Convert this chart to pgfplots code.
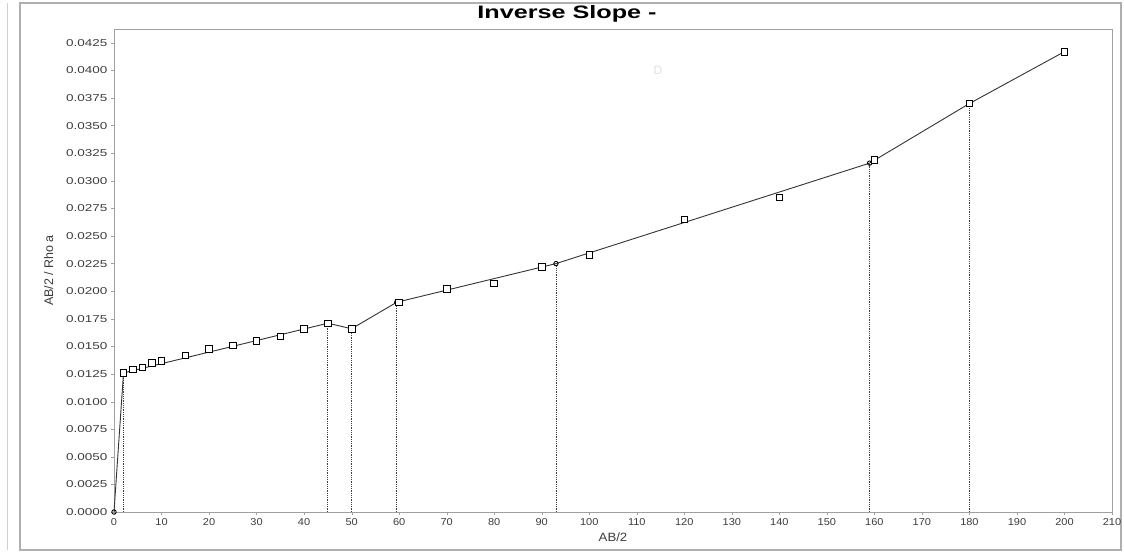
\documentclass[border=0pt]{standalone}
\usepackage{fontspec}
\setmainfont{Liberation Sans}
\newfontfamily\tickfontY[FakeStretch=1.35]{Liberation Sans}
\newfontfamily\tickfontX[FakeStretch=1.1]{Liberation Sans}
\newfontfamily\titlefont[FakeStretch=1.4]{Liberation Sans}
\usepackage{pgfplots}
\pgfplotsset{compat=1.18}
\definecolor{axisgray}{RGB}{160,160,160}
\definecolor{labelgray}{RGB}{60,60,60}
\definecolor{framegray}{RGB}{175,175,175}

\begin{document}
\begin{tikzpicture}[x=1pt,y=1pt]
\useasboundingbox (0,0) rectangle (1124,557);
% window frame of the screenshot
\draw[framegray, line width=1.2pt] (20,7) rectangle (1121,554);
\draw[framegray!60, line width=0.8pt] (7,7) -- (7,554);

\begin{axis}[
    at={(114pt,45pt)}, anchor=south west,
    scale only axis,
    width=998pt, height=483pt,
    xmin=0, xmax=210,
    ymin=0, ymax=0.04375,
    xtick={0,10,...,210},
    ytick={0,0.0025,0.005,0.0075,0.01,0.0125,0.015,0.0175,0.02,0.0225,0.025,0.0275,0.03,0.0325,0.035,0.0375,0.04,0.0425},
    scaled y ticks=false,
    yticklabel style={
        /pgf/number format/fixed,
        /pgf/number format/fixed zerofill,
        /pgf/number format/precision=4,
        /pgf/number format/assume math mode=true,
        font=\fontsize{10}{12}\selectfont\tickfontY, text=labelgray},
    xticklabel style={
        /pgf/number format/assume math mode=true,
        font=\fontsize{10}{12}\selectfont\tickfontX, text=labelgray},
    axis line style={axisgray},
    tick style={axisgray},
    major tick length=3pt,
    tick align=outside,
    xtick pos=bottom, ytick pos=left,
    xlabel={AB/2},
    ylabel={AB/2 / Rho a},
    xlabel style={font=\fontsize{12}{14}\selectfont\tickfontX, text=labelgray},
    ylabel style={font=\fontsize{12.5}{14}\selectfont, text=labelgray},
    ylabel shift=6pt,
    clip=false,
]
    % dotted drop lines at the break points
    \addplot[ycomb, densely dotted, black!75, line width=0.8pt, mark=none]
        coordinates {(2,0.0126) (45,0.0171) (50,0.0166) (59.5,0.0190) (93,0.0225) (159,0.0316) (180,0.0370)};

    % inverse slope segments
    \addplot[black!80, line width=0.9pt, mark=o, mark size=2.2pt, mark options={solid, black}]
        coordinates {(0,0) (2,0.0126) (45,0.0171) (50,0.0166) (59.5,0.0190) (93,0.0225) (159,0.0316) (180,0.0370) (200,0.0417)};

    % measured values
    \addplot[only marks, mark=square*, mark size=3.3pt, mark options={fill=white, draw=black, line width=0.8pt}]
        coordinates {
        (2,0.0126) (4,0.0129) (6,0.0131) (8,0.0135) (10,0.0137) (15,0.0142)
        (20,0.0148) (25,0.0151) (30,0.0155) (35,0.0159) (40,0.0166) (45,0.0171)
        (50,0.0166) (60,0.0190) (70,0.0202) (80,0.0207) (90,0.0222) (100,0.0233)
        (120,0.0265) (140,0.0285) (160,0.0319) (180,0.0370) (200,0.0417)};
\end{axis}

\node[font=\fontsize{18}{21}\selectfont\titlefont\bfseries] at (567,543) {Inverse Slope -};
\node[font=\fontsize{12}{14}\selectfont, text=black!12] at (658,487) {D};
\end{tikzpicture}
\end{document}
